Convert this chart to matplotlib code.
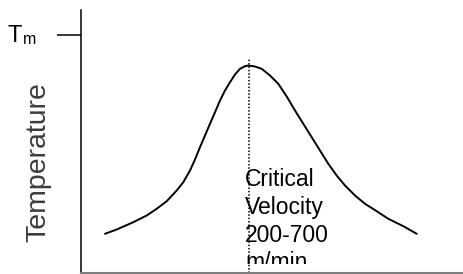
import matplotlib
matplotlib.use('Agg')
import matplotlib.pyplot as plt
from matplotlib.transforms import Bbox, TransformedBbox

plt.rcParams['font.family'] = ['Liberation Sans', 'DejaVu Sans']

# Curve (velocity vs temperature, arbitrary units)
velocity = [24, 35.7, 52.3, 65.7, 75.7, 85.7, 95.7, 102.3, 109, 114, 119, 124,
            129, 134, 139, 144, 149, 154, 159, 164, 167.3,
            174, 180.7, 189, 197.3, 205.7, 214, 222.3, 230.7, 239, 247.3,
            255.7, 264, 274, 284, 295.7, 307.3, 322.3, 335.7]
temperature = [38.7, 43, 50.3, 57, 63.7, 71.3, 82, 90.3, 102, 113, 125.3, 137,
               148.7, 160.3, 172, 182, 190.3, 198, 203.7, 206.3, 207,
               206, 203.7, 197, 188.7, 176, 162, 148.7, 135.3, 122, 108.7,
               97, 87, 77, 68.7, 61.3, 53.7, 46.3, 38.7]

critical_x = 168
critical_top = 215
tm_level = 238
note_lines = ['Critical', 'Velocity', '200-700', 'm/min']

fig = plt.figure(figsize=(4.63, 2.74), dpi=100)
ax = fig.add_axes([81 / 463, 1.5 / 274, (463 - 81) / 463, 263 / 274])
ax.set_xlim(0, 382)
ax.set_ylim(0, 263)

ax.plot(velocity, temperature, color='black', lw=1.4, solid_capstyle='round',
        solid_joinstyle='round')
ax.plot([critical_x, critical_x], [0, critical_top], color='black', lw=1.1,
        linestyle=(0, (1, 1.2)))

# note text, cut off at the bottom like the original
clip_box = TransformedBbox(Bbox([[0, 9], [382, 263]]), ax.transData)
for i, line in enumerate(note_lines):
    t = ax.text(164, 272 - (186 + 27.5 * i), line, fontsize=16.5,
                ha='left', va='baseline', color='black', clip_on=True)
    t.set_clip_box(clip_box)

for s in ['top', 'right']:
    ax.spines[s].set_visible(False)
ax.spines['left'].set_linewidth(1.1)
ax.spines['left'].set_color('black')
ax.spines['bottom'].set_linewidth(1.5)
ax.spines['bottom'].set_color('#7f7f7f')

ax.set_xticks([])
ax.set_yticks([tm_level])
ax.set_yticklabels([])
ax.tick_params(axis='y', length=17.3, width=1.1, direction='out', color='black')

fig.text(8 / 463, 1 - 42 / 274, 'T', fontsize=17, ha='left', va='baseline')
fig.text(23 / 463, 1 - 44 / 274, 'm', fontsize=11.5, ha='left', va='baseline')

fig.text(38 / 463, 1 - 162 / 274, 'Temperature', fontsize=20.5, rotation=90,
         ha='center', va='center', color='#3c3c3c')

fig.savefig('out.png', dpi=100)
